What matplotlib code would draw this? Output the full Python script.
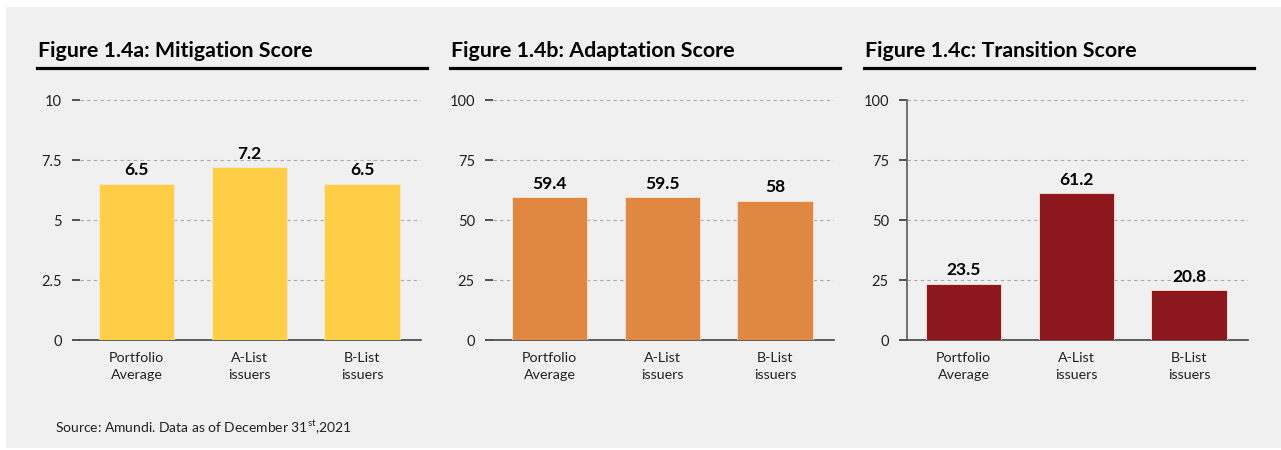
import matplotlib
matplotlib.use("Agg")
import matplotlib.pyplot as plt
from matplotlib.patches import Rectangle
from matplotlib.lines import Line2D

plt.rcParams['font.family'] = ['Lato', 'DejaVu Sans']
plt.rcParams['mathtext.fontset'] = 'custom'
plt.rcParams['mathtext.rm'] = 'Lato'

# data
categories = ['Portfolio\nAverage', 'A-List\nissuers', 'B-List\nissuers']
mitigation = [6.5, 7.2, 6.5]
adaptation = [59.4, 59.5, 58]
transition = [23.5, 61.2, 20.8]

titles = ['Figure 1.4a: Mitigation Score',
          'Figure 1.4b: Adaptation Score',
          'Figure 1.4c: Transition Score']
mit_ticks = [0, 2.5, 5, 7.5, 10]
mit_ticklabels = ['0', '2.5', '5', '7.5', '10']
score_ticks = [0, 25, 50, 75, 100]
score_ticklabels = ['0', '25', '50', '75', '100']
source = 'Source: Amundi. Data as of December 31$^{\\mathrm{st}}$,2021'

W, H = 1281, 450
fig = plt.figure(figsize=(W / 100, H / 100), dpi=100)
fig.patch.set_facecolor('white')

# grey panel behind everything
fig.add_artist(Rectangle((6 / W, 0.004), 1 - 6 / W, 1 - 7 / H - 0.004,
                         transform=fig.transFigure, facecolor='#F0F0F0',
                         edgecolor='none', zorder=-10))

panels = [
    (mitigation, '#FFCE47', mit_ticks, mit_ticklabels, 80, 38, False),
    (adaptation, '#E08741', score_ticks, score_ticklabels, 493, 451, False),
    (transition, '#8C181E', score_ticks, score_ticklabels, 907, 865, True),
]

for (vals, color, ticks, ticklabels, left, tx, show_spine), title in zip(panels, titles):
    ax = fig.add_axes([left / W, 110 / H, 341 / W, 240 / H])
    ax.set_facecolor('none')
    x = range(len(categories))
    ax.bar(x, vals, width=0.67, color=color, edgecolor='#F6E6D6',
           linewidth=0.6, zorder=3)
    for xi, v in zip(x, vals):
        ax.annotate(f'{v:g}', (xi, v), xytext=(0, 4), textcoords='offset points',
                    ha='center', va='bottom', fontsize=12.5, fontweight='bold',
                    color='black')
    ax.set_xlim(-0.5, 2.52)
    ax.set_ylim(0, ticks[-1])
    ax.set_yticks(ticks)
    ax.set_yticklabels(ticklabels)
    ax.set_xticks(list(x))
    ax.set_xticklabels(categories, fontsize=10.3, color='#222222', linespacing=1.5)
    ax.tick_params(axis='x', length=0, pad=8.5)
    ax.tick_params(axis='y', length=6, width=1.3, color='#444444', pad=7,
                   labelsize=10.5, labelcolor='#222222')
    ax.yaxis.grid(True, linestyle=(0, (3, 3)), color='#A8A8A8', linewidth=0.8, zorder=0)
    for s in ['top', 'right']:
        ax.spines[s].set_visible(False)
    ax.spines['left'].set_visible(show_spine)
    ax.spines['left'].set_color('#666666')
    ax.spines['left'].set_linewidth(1.3)
    ax.spines['bottom'].set_color('#444444')
    ax.spines['bottom'].set_linewidth(1.2)

    fig.text(tx / W, 1 - 57 / H, title, fontsize=15.4, fontweight='bold',
             va='baseline', ha='left', color='black')
    fig.add_artist(Line2D([(tx - 1) / W, (tx + 389) / W], [1 - 67.5 / H] * 2,
                          color='black', linewidth=2.3, transform=fig.transFigure))

fig.text(55 / W, 1 - 427 / H, source, fontsize=10, va='center', ha='left',
         color='#222222')

fig.savefig('out.png', dpi=100, facecolor=fig.get_facecolor())
